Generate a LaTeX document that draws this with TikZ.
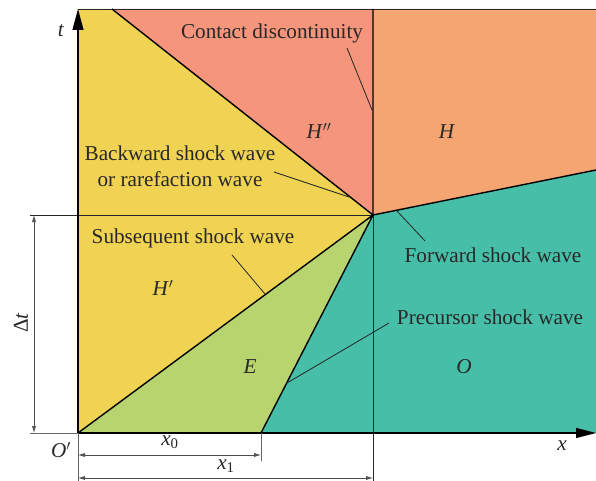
\documentclass[tikz,border=0pt]{standalone}
\usepackage{fontspec}
\setmainfont{Liberation Serif}
\usetikzlibrary{arrows.meta}
\definecolor{hyel}{RGB}{240,211,82}
\definecolor{hred}{RGB}{244,149,124}
\definecolor{horg}{RGB}{244,165,114}
\definecolor{oteal}{RGB}{70,190,168}
\definecolor{egrn}{RGB}{184,212,110}
\definecolor{txt}{RGB}{40,40,40}
\begin{document}
\begin{tikzpicture}[x=1pt,y=-1pt,
  wave/.style={line width=1.4pt,line join=round},
  thinline/.style={line width=0.8pt,black!85},
  leader/.style={line width=0.8pt,black!85},
  lbl/.style={text=txt,font=\fontsize{21.2}{26}\selectfont,inner sep=0pt,align=center},
  dim/.style={line width=0.7pt,black!70,{Latex[length=7pt,width=4pt]}-{Latex[length=7pt,width=4pt]}},
  ext/.style={line width=0.7pt,black!60}]
  \useasboundingbox (0,0) rectangle (596,481);
  \coordinate (O) at (78,433);
  \coordinate (P) at (373,215);
  \coordinate (tl) at (78,9);
  \coordinate (tr) at (596,9);
  \coordinate (br) at (596,433);
  \coordinate (b) at (112,9);
  \coordinate (c) at (373,9);
  \coordinate (f) at (596,170);
  \coordinate (xa) at (261,433);
  \coordinate (xb) at (373,433);
  \fill[hyel] (O) -- (tl) -- (b) -- (P) -- cycle;
  \fill[hred] (b) -- (c) -- (P) -- cycle;
  \fill[horg] (c) -- (tr) -- (f) -- (P) -- cycle;
  \fill[oteal] (P) -- (f) -- (br) -- (xa) -- cycle;
  \fill[egrn] (O) -- (xa) -- (P) -- cycle;
  \draw[thinline] (30,215) -- (P);
  \draw[thinline] (P) -- (373,481);
  \draw[thinline] (tl) -- (tr);
  \draw[wave] (b) -- (P) (c) -- (P) (O) -- (P) (xa) -- (P) (P) -- (f);
  \draw[line width=1.1pt,-{Triangle[length=21pt,width=11pt]}] (O) -- (tl);
  \draw[line width=1.1pt,-{Triangle[length=20pt,width=10pt]}] (O) -- (br);
  \draw[ext] (30,433) -- (O);
  \draw[ext] (O) -- (78,481);
  \draw[ext] (xa) -- (261,461);
  \draw[dim] (34,215) -- (34,433);
  \draw[dim] (78,455) -- (261,455);
  \draw[dim] (78,478) -- (373,478);
  \node[lbl,rotate=90] (dt) at (21,323) {Δ\textit{t}};
  \node[lbl] (org) at (61,450) {\textit{O}$'$};
  \node[lbl] (lx0) at (170,442) {\textit{x}\textsubscript{0}};
  \node[lbl] (lx1) at (226,466) {\textit{x}\textsubscript{1}};
  \node[lbl] (lt) at (61,31) {\textit{t}};
  \node[lbl] (lx) at (562,446) {\textit{x}};
  \node[lbl] (hpp) at (319,131) {\textit{H}$''$};
  \node[lbl] (h) at (447,132) {\textit{H}};
  \node[lbl] (hp) at (163,288) {\textit{H}$'$};
  \node[lbl] (e) at (250,367) {\textit{E}};
  \node[lbl] (o) at (464,367) {\textit{O}};
  \node[lbl] (cd) at (272,33) {Contact discontinuity};
  \node[lbl] (bw) at (180,166) {Backward shock wave\\or rarefaction wave};
  \node[lbl] (sw) at (193,238) {Subsequent shock wave};
  \node[lbl] (fw) at (493,255) {Forward shock wave};
  \node[lbl] (pw) at (490,317) {Precursor shock wave};
  \coordinate (cd1) at (347,48);   \coordinate (cd2) at (372,110);
  \coordinate (bw1) at (274,172);  \coordinate (bw2) at (349,197);
  \coordinate (sw1) at (232,255);  \coordinate (sw2) at (265,294);
  \coordinate (fw1) at (425,241);  \coordinate (fw2) at (397,211);
  \coordinate (pw1) at (389,323);  \coordinate (pw2) at (287,383);
  \draw[leader] (cd1) -- (cd2) (bw1) -- (bw2) (sw1) -- (sw2) (fw1) -- (fw2) (pw1) -- (pw2);
\end{tikzpicture}
\end{document}
